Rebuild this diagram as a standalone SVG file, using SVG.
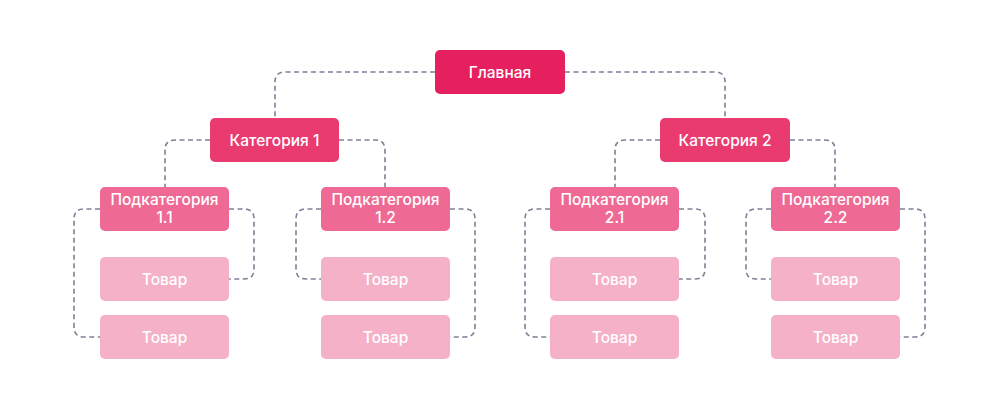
<svg xmlns="http://www.w3.org/2000/svg" width="1000" height="410" viewBox="0 0 1000 410">
<style>
text{font-family:"Inter","Liberation Sans",sans-serif;fill:#fff;text-anchor:middle;font-size:15.5px;font-weight:500}
.c path{fill:none;stroke:#7d8196;stroke-width:1.6;stroke-dasharray:5 3.5}
.m{fill:#e61f5e}.k{fill:#ea3b71}.s{fill:#ee6a94}.t{fill:#f5b1c8}
</style>
<rect width="1000" height="410" fill="#fff"/>
<g class="c">
<path d="M435 72H285Q275 72 275 82V118"/>
<path d="M565 72H715Q725 72 725 82V118"/>
<path d="M210 140H175Q165 140 165 150V187"/>
<path d="M339 140H375Q385 140 385 150V187"/>
<path d="M660 140H625Q615 140 615 150V187"/>
<path d="M790 140H825Q835 140 835 150V187"/>
<path d="M100 209H84Q74 209 74 219V327Q74 337 84 337H100"/>
<path d="M229 209H244Q254 209 254 219V269Q254 279 244 279H229"/>
<path d="M321 209H306Q296 209 296 219V269Q296 279 306 279H321"/>
<path d="M450 209H465Q475 209 475 219V327Q475 337 465 337H450"/>
<path d="M550 209H535Q525 209 525 219V327Q525 337 535 337H550"/>
<path d="M679 209H695Q705 209 705 219V269Q705 279 695 279H679"/>
<path d="M771 209H756Q746 209 746 219V269Q746 279 756 279H771"/>
<path d="M900 209H915Q925 209 925 219V327Q925 337 915 337H900"/>
</g>
<g id="main"><rect class="m" x="435" y="50" width="130" height="44" rx="5"/><text x="500" y="78">Главная</text></g>
<g id="cat1"><rect class="k" x="210" y="118" width="129" height="44" rx="5"/><text x="274.5" y="146">Категория 1</text></g>
<g id="cat2"><rect class="k" x="660" y="118" width="130" height="44" rx="5"/><text x="725" y="146">Категория 2</text></g>
<g id="sub11"><rect class="s" x="100" y="187" width="129" height="44" rx="5"/><text x="164.5" y="205">Подкатегория</text><text x="164.5" y="223">1.1</text></g>
<g id="sub12"><rect class="s" x="321" y="187" width="129" height="44" rx="5"/><text x="385.5" y="205">Подкатегория</text><text x="385.5" y="223">1.2</text></g>
<g id="sub21"><rect class="s" x="550" y="187" width="129" height="44" rx="5"/><text x="614.5" y="205">Подкатегория</text><text x="614.5" y="223">2.1</text></g>
<g id="sub22"><rect class="s" x="771" y="187" width="129" height="44" rx="5"/><text x="835.5" y="205">Подкатегория</text><text x="835.5" y="223">2.2</text></g>
<g id="p1"><rect class="t" x="100" y="257" width="129" height="44" rx="5"/><text x="164.5" y="285">Товар</text></g>
<g id="p2"><rect class="t" x="100" y="315" width="129" height="44" rx="5"/><text x="164.5" y="343">Товар</text></g>
<g id="p3"><rect class="t" x="321" y="257" width="129" height="44" rx="5"/><text x="385.5" y="285">Товар</text></g>
<g id="p4"><rect class="t" x="321" y="315" width="129" height="44" rx="5"/><text x="385.5" y="343">Товар</text></g>
<g id="p5"><rect class="t" x="550" y="257" width="129" height="44" rx="5"/><text x="614.5" y="285">Товар</text></g>
<g id="p6"><rect class="t" x="550" y="315" width="129" height="44" rx="5"/><text x="614.5" y="343">Товар</text></g>
<g id="p7"><rect class="t" x="771" y="257" width="129" height="44" rx="5"/><text x="835.5" y="285">Товар</text></g>
<g id="p8"><rect class="t" x="771" y="315" width="129" height="44" rx="5"/><text x="835.5" y="343">Товар</text></g>
</svg>
